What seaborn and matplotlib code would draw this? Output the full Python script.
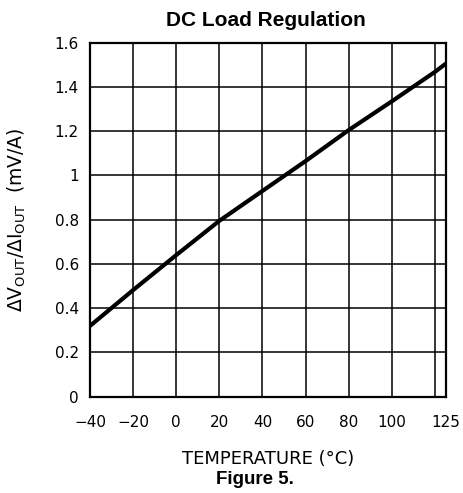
import pandas as pd
import matplotlib.pyplot as plt
import seaborn as sns

# values
temperature = [-40, -20, 0, 20, 40, 60, 80, 100, 120, 125]
regulation = [0.32, 0.482, 0.64, 0.795, 0.93, 1.065, 1.205, 1.335, 1.468, 1.505]

x_ticks = [-40, -20, 0, 20, 40, 60, 80, 100, 120, 125]
x_labels = ['\u221240', '\u221220', '0', '20', '40', '60', '80', '100', '', '125']
y_ticks = [0, 0.2, 0.4, 0.6, 0.8, 1.0, 1.2, 1.4, 1.6]
y_labels = ['0', '0.2', '0.4', '0.6', '0.8', '1', '1.2', '1.4', '1.6']

df = pd.DataFrame({'temp': temperature, 'reg': regulation})

sns.set_style("white")
plt.rcParams['font.family'] = ['DejaVu Sans']
plt.rcParams['mathtext.default'] = 'regular'
plt.rcParams['text.color'] = 'black'
plt.rcParams['axes.labelcolor'] = 'black'
plt.rcParams['xtick.color'] = 'black'
plt.rcParams['ytick.color'] = 'black'

fig = plt.figure(figsize=(4.63, 4.93), dpi=100)
ax = fig.add_axes([90 / 463, 1 - 396.7 / 493, 355.7 / 463, 354 / 493])

sns.lineplot(data=df, x='temp', y='reg', color='black', linewidth=3, ax=ax)

ax.set_xlim(-40, 125)
ax.set_ylim(0, 1.6)
ax.set_xticks(x_ticks)
ax.set_xticklabels(x_labels, fontsize=11)
ax.set_yticks(y_ticks)
ax.set_yticklabels(y_labels, fontsize=11)
ax.tick_params(axis='x', length=0, pad=13)
ax.tick_params(axis='y', length=0, pad=8)
ax.grid(True, color='black', linewidth=1.1)
for s in ax.spines.values():
    s.set_color('black')
    s.set_linewidth(1.6)

ax.set_xlabel('')
ax.set_ylabel('')

fig.text(17 / 463, 1 - 220 / 493, r'$\Delta V_{OUT}/\Delta I_{OUT}$  (mV/A)',
         rotation=90, ha='center', va='center', fontsize=13.5)
fig.text(268 / 463, 1 - 459 / 493, 'TEMPERATURE (\u00b0C)', ha='center', va='center',
         fontsize=13)
fig.text(266 / 463, 1 - 21 / 493, 'DC Load Regulation', ha='center', va='center',
         fontsize=15, fontweight='bold', family='Liberation Sans')
fig.text(255 / 463, 1 - 479 / 493, 'Figure 5.', ha='center', va='center',
         fontsize=13.5, fontweight='bold', family='Liberation Sans')

fig.savefig('out.png', dpi=100)
